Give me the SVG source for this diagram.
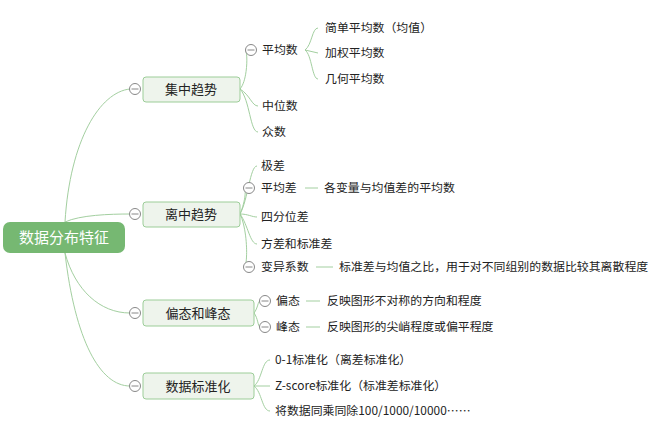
<svg xmlns="http://www.w3.org/2000/svg" width="664" height="430" viewBox="0 0 664 430">
<style>
text{font-family:"Microsoft YaHei","Noto Sans CJK SC",sans-serif;font-size:11.9px;fill:#222}
.l1 text{font-size:13px}
.l1 rect{fill:#eef4ec;stroke:#9ccd98;stroke-width:1}
.c{fill:#fff;stroke:#888;stroke-width:1}
.cl{stroke:#888;stroke-width:1}
#edges path,#edges line{fill:none;stroke:#a3cfa0;stroke-width:1}
</style>
<defs>
<g id="col"><circle class="c" r="5.5"/><line class="cl" x1="-3.5" x2="3.5"/></g>
</defs>
<rect width="664" height="430" fill="#fff"/>
<g id="edges">
<path d="M65 222 C70 140 100 92 130 89"/>
<path d="M65 222 C80 215 110 214 130 214"/>
<path d="M65 253 C75 290 100 313 130 313"/>
<path d="M65 253 C75 340 100 386 130 386"/>
<path d="M240 89 C248 80 248 50 245 50"/>
<path d="M240 89 C250 95 252 106 258 106"/>
<path d="M240 89 C250 100 250 132 258 132"/>
<path d="M305 50 C312 45 312 28 318 28"/>
<path d="M305 50 L318 53"/>
<path d="M305 50 C312 55 312 79 318 79"/>
<path d="M240 214 C248 200 250 166 257 166"/>
<path d="M240 214 C246 200 246 188 244 188"/>
<path d="M240 214 C248 214 252 217 257 217"/>
<path d="M240 214 C248 225 250 244 257 244"/>
<path d="M240 214 C248 230 248 267 244 267"/>
<line x1="305" y1="188" x2="318" y2="188"/>
<line x1="316" y1="267" x2="333" y2="267"/>
<path d="M254 313 C258 308 258 301 260 301"/>
<path d="M254 313 C258 318 258 327 260 327"/>
<line x1="306" y1="301" x2="320" y2="301"/>
<line x1="306" y1="327" x2="320" y2="327"/>
<path d="M254 386 C262 380 262 360 270 360"/>
<path d="M254 386 L270 386"/>
<path d="M254 386 C262 392 262 411 270 411"/>
</g>
<g id="root"><rect x="3" y="222" width="122" height="31" rx="7" fill="#76b872"/><text x="64" y="243" text-anchor="middle" style="font-size:15px;fill:#fff">数据分布特征</text></g>
<g id="n1" class="l1"><rect x="143" y="77" width="97" height="25" rx="3"/><text x="191" y="94" text-anchor="middle">集中趋势</text><use href="#col" x="135" y="89"/></g>
<g id="n2" class="l1"><rect x="143" y="202" width="97" height="25" rx="3"/><text x="191" y="219" text-anchor="middle">离中趋势</text><use href="#col" x="135" y="214"/></g>
<g id="n3" class="l1"><rect x="143" y="300" width="111" height="26" rx="3"/><text x="198" y="318" text-anchor="middle">偏态和峰态</text><use href="#col" x="135" y="313"/></g>
<g id="n4" class="l1"><rect x="143" y="373" width="111" height="26" rx="3"/><text x="198" y="391" text-anchor="middle">数据标准化</text><use href="#col" x="135" y="386"/></g>
<g id="n1a"><use href="#col" x="251" y="50"/><text x="262" y="54">平均数</text></g>
<g id="n1a1"><text x="325" y="32">简单平均数（均值）</text></g>
<g id="n1a2"><text x="325" y="57">加权平均数</text></g>
<g id="n1a3"><text x="325" y="83">几何平均数</text></g>
<g id="n1b"><text x="262" y="110">中位数</text></g>
<g id="n1c"><text x="262" y="136">众数</text></g>
<g id="n2a"><text x="261" y="170">极差</text></g>
<g id="n2b"><use href="#col" x="249" y="188"/><text x="261" y="192">平均差</text><text x="324" y="192">各变量与均值差的平均数</text></g>
<g id="n2c"><text x="261" y="221">四分位差</text></g>
<g id="n2d"><text x="261" y="248">方差和标准差</text></g>
<g id="n2e"><use href="#col" x="249" y="267"/><text x="261" y="271">变异系数</text><text x="339" y="271">标准差与均值之比，用于对不同组别的数据比较其离散程度</text></g>
<g id="n3a"><use href="#col" x="265" y="301"/><text x="276" y="305">偏态</text><text x="327" y="305">反映图形不对称的方向和程度</text></g>
<g id="n3b"><use href="#col" x="265" y="327"/><text x="276" y="331">峰态</text><text x="327" y="331">反映图形的尖峭程度或偏平程度</text></g>
<g id="n4a"><text x="275" y="364">0-1标准化（离差标准化）</text></g>
<g id="n4b"><text x="275" y="390">Z-score标准化（标准差标准化）</text></g>
<g id="n4c"><text x="275" y="415">将数据同乘同除100/1000/10000……</text></g>
</svg>
